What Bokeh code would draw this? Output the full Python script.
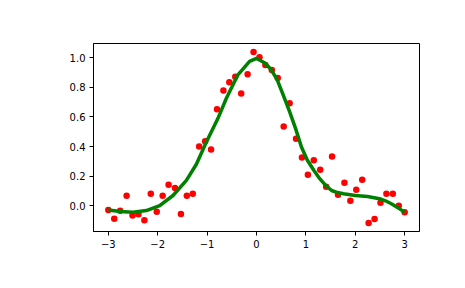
from bokeh.plotting import figure
from bokeh.models import Range1d, FixedTicker
from bokeh.embed import file_html
from bokeh.resources import INLINE

# Scatter data
x_pts = [-3.00, -2.88, -2.76, -2.63, -2.51, -2.39, -2.27, -2.14, -2.02, -1.90,
         -1.78, -1.65, -1.53, -1.41, -1.29, -1.16, -1.04, -0.92, -0.80, -0.67,
         -0.55, -0.43, -0.31, -0.18, -0.06, 0.06, 0.18, 0.31, 0.43, 0.55,
         0.67, 0.80, 0.92, 1.04, 1.16, 1.29, 1.41, 1.53, 1.65, 1.78,
         1.90, 2.02, 2.14, 2.27, 2.39, 2.51, 2.63, 2.76, 2.88, 3.00]
y_pts = [-0.030, -0.090, -0.036, 0.066, -0.068, -0.059, -0.100, 0.080, -0.043, 0.066,
         0.141, 0.118, -0.057, 0.066, 0.080, 0.400, 0.436, 0.380, 0.652, 0.780,
         0.836, 0.872, 0.760, 0.890, 1.040, 1.004, 0.952, 0.918, 0.864, 0.536,
         0.693, 0.452, 0.325, 0.209, 0.307, 0.243, 0.127, 0.332, 0.073, 0.155,
         0.032, 0.107, 0.175, -0.118, -0.091, 0.018, 0.080, 0.080, -0.002, -0.046]

# Fitted curve
x_fit = [-3.00, -2.76, -2.50, -2.23, -1.96, -1.69, -1.42, -1.22, -1.015, -0.78,
         -0.61, -0.377, -0.14, 0.00,
         0.05, 0.17, 0.30, 0.42, 0.54, 0.67, 0.79, 0.91, 1.03, 1.16,
         1.28, 1.40, 1.52, 1.64, 1.76, 2.00, 2.25, 2.49, 2.61, 2.73, 2.87, 3.00]
y_fit = [-0.030, -0.041, -0.046, -0.034, 0.000, 0.068, 0.170, 0.278, 0.431, 0.591,
         0.727, 0.886, 0.977, 0.997,
         0.988, 0.966, 0.920, 0.852, 0.750, 0.636, 0.523, 0.397, 0.307, 0.239,
         0.182, 0.136, 0.102, 0.088, 0.080, 0.068, 0.061, 0.046, 0.032, 0.012, -0.016, -0.046]

x_ticks = [-3, -2, -1, 0, 1, 2, 3]
y_ticks = [0.0, 0.2, 0.4, 0.6, 0.8, 1.0]

p = figure(frame_width=326, frame_height=188,
           min_border_left=93, min_border_right=46,
           min_border_top=43, min_border_bottom=57,
           x_range=Range1d(-3.3, 3.3), y_range=Range1d(-0.176, 1.098),
           output_backend="svg", toolbar_location=None)

p.scatter(x_pts, y_pts, size=6.5, color="#ff0000", line_color=None)
p.line(x_fit, y_fit, line_width=3.5, color="#008000", line_join="round")

p.grid.visible = False
p.outline_line_color = "black"
p.outline_line_width = 1
p.background_fill_color = "white"
p.border_fill_color = "white"

p.xaxis.ticker = FixedTicker(ticks=x_ticks)
p.yaxis.ticker = FixedTicker(ticks=y_ticks)
p.xaxis.major_label_overrides = {t: ("\u2212" + str(abs(t)) if t < 0 else str(t)) for t in x_ticks}
p.yaxis.major_label_overrides = {t: "%.1f" % t for t in y_ticks}

for ax in (p.xaxis[0], p.yaxis[0]):
    ax.axis_line_color = "black"
    ax.major_tick_line_color = "black"
    ax.major_tick_out = 4
    ax.major_tick_in = 0
    ax.minor_tick_line_color = None
    ax.major_label_text_font = "DejaVu Sans"
    ax.major_label_text_font_size = "10px"
    ax.major_label_text_color = "black"
    ax.major_label_standoff = 4

out = file_html(p, INLINE)
open("out.html", "w").write(out)
